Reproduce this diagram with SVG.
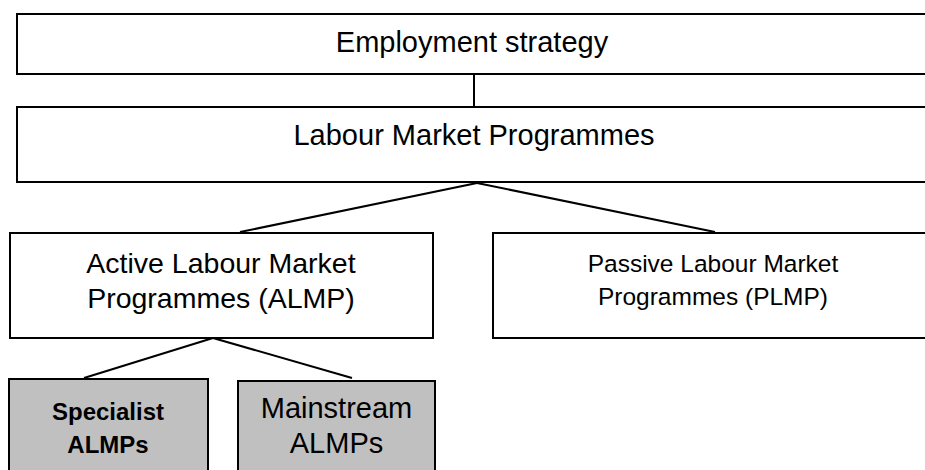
<svg xmlns="http://www.w3.org/2000/svg" width="925" height="470" viewBox="0 0 925 470">
<style>
.box{fill:#fff;stroke:#000;stroke-width:2}
.grey{fill:#c0c0c0;stroke:#000;stroke-width:2}
.t{font-family:"Liberation Sans",Arial,sans-serif;fill:#000;text-anchor:middle}
.conn line{stroke:#000;stroke-width:2}
</style>
<rect width="925" height="470" fill="#fff"/>
<g id="employment">
<rect class="box" x="17" y="14" width="915" height="60"/>
<text class="t" x="472" y="52" font-size="29">Employment strategy</text>
</g>
<g id="lmp">
<rect class="box" x="17" y="107" width="915" height="75"/>
<text class="t" x="474" y="145" font-size="29">Labour Market Programmes</text>
</g>
<g id="almp">
<rect class="box" x="10" y="233" width="423" height="105"/>
<text class="t" x="221" y="273" font-size="28.5">Active Labour Market</text>
<text class="t" x="221" y="308" font-size="28.5">Programmes (ALMP)</text>
</g>
<g id="plmp">
<rect class="box" x="493" y="233" width="440" height="105"/>
<text class="t" x="713" y="272" font-size="24.5">Passive Labour Market</text>
<text class="t" x="713" y="305" font-size="24.5">Programmes (PLMP)</text>
</g>
<g id="specialist">
<rect class="grey" x="9" y="379" width="199" height="100"/>
<text class="t" x="108" y="420" font-size="24" font-weight="bold">Specialist</text>
<text class="t" x="108" y="453" font-size="24" font-weight="bold">ALMPs</text>
</g>
<g id="mainstream">
<rect class="grey" x="238" y="381" width="197" height="100"/>
<text class="t" x="336.5" y="418" font-size="29">Mainstream</text>
<text class="t" x="336.5" y="453" font-size="29">ALMPs</text>
</g>
<g id="connectors" class="conn">
<line x1="474" y1="74" x2="474" y2="107"/>
<line x1="477" y1="183" x2="240" y2="232"/>
<line x1="477" y1="183" x2="715" y2="232"/>
<line x1="213" y1="338" x2="84" y2="378"/>
<line x1="213" y1="338" x2="352" y2="378"/>
</g>
</svg>
